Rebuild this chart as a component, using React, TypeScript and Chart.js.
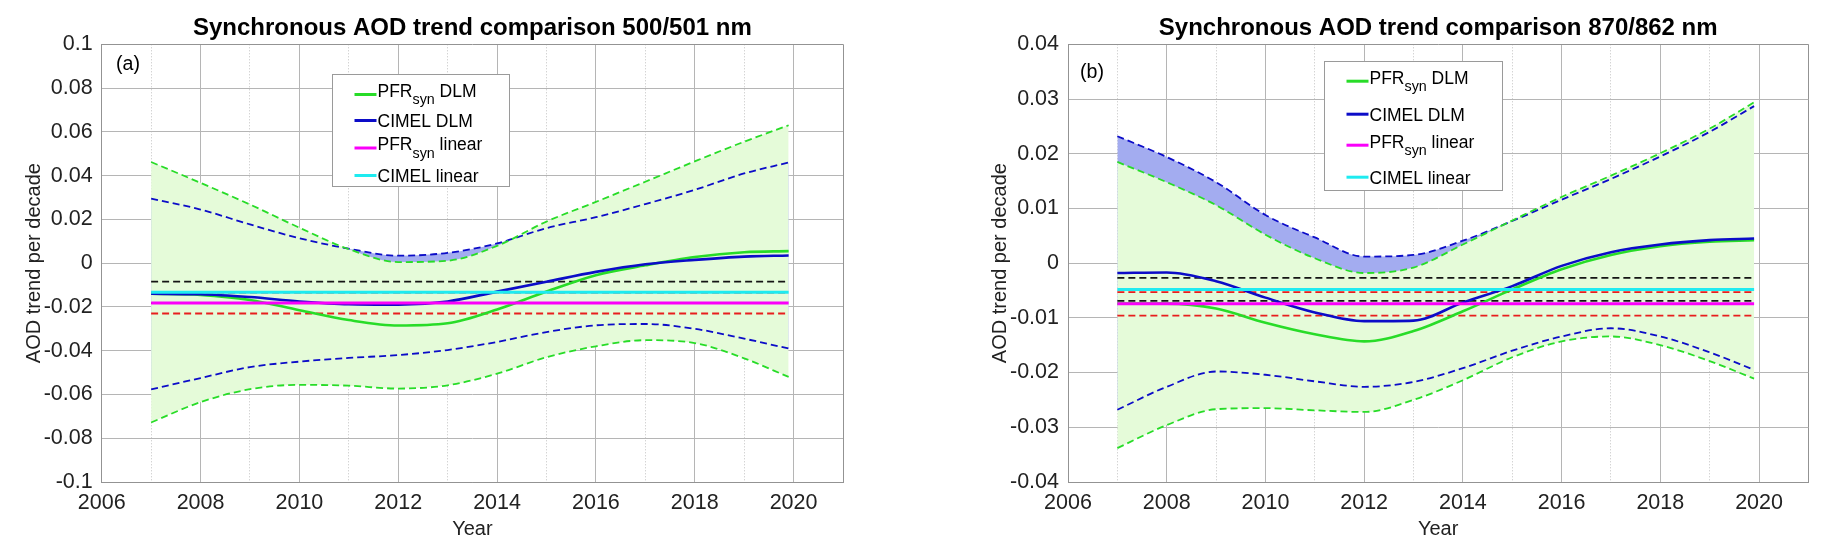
import React, { useEffect, useRef } from 'react';
import { Chart, registerables } from 'chart.js';

Chart.register(...registerables);

const FONT = "'Liberation Sans', Arial, Helvetica, sans-serif";

// ---------- shared axes / labels ----------
const YEARS = [2007, 2008, 2009, 2010, 2011, 2012, 2013, 2014, 2015, 2016, 2017, 2018, 2019, 2019.9];
const X_MIN = 2006;
const X_MAX = 2021;
const LEGEND_LABELS = ['PFR_{syn} DLM', 'CIMEL DLM', 'PFR_{syn} linear', 'CIMEL linear'];
const X_TITLE = 'Year';
const Y_TITLE = 'AOD trend per decade';

// ---------- panel (a) 500/501 nm ----------
const A_TITLE = 'Synchronous AOD trend comparison 500/501 nm';
const A_PFR_DLM = [-0.014, -0.0145, -0.0168, -0.0215, -0.026, -0.0285, -0.0275, -0.0212, -0.013, -0.0055, -0.001, 0.0028, 0.005, 0.0055];
const A_CIMEL_DLM = [-0.014, -0.0142, -0.0155, -0.0175, -0.0188, -0.019, -0.0175, -0.013, -0.0085, -0.004, -0.0005, 0.0015, 0.003, 0.0035];
const A_PFR_UPPER = [0.0462, 0.0367, 0.0268, 0.0162, 0.0064, 0.0005, 0.0011, 0.0079, 0.019, 0.028, 0.0372, 0.0465, 0.0555, 0.063];
const A_PFR_LOWER = [-0.0728, -0.0635, -0.0576, -0.0556, -0.056, -0.0573, -0.0558, -0.0505, -0.043, -0.038, -0.0352, -0.0365, -0.0435, -0.052];
const A_CIMEL_UPPER = [0.0295, 0.0245, 0.0177, 0.0114, 0.0066, 0.0034, 0.0047, 0.009, 0.016, 0.021, 0.027, 0.0335, 0.041, 0.046];
const A_CIMEL_LOWER = [-0.0577, -0.0525, -0.0475, -0.045, -0.0433, -0.042, -0.0397, -0.036, -0.0315, -0.0284, -0.0278, -0.03, -0.0345, -0.039];
const A_PFR_LINEAR = -0.0182;
const A_CIMEL_LINEAR = -0.0133;
const A_PFR_LINEAR_CI = [-0.0134, -0.023];
const A_CIMEL_LINEAR_CI = [-0.0084, -0.0183];

// ---------- panel (b) 870/862 nm ----------
const B_TITLE = 'Synchronous AOD trend comparison 870/862 nm';
const B_PFR_DLM = [-0.0074, -0.0074, -0.0083, -0.0109, -0.013, -0.0143, -0.0124, -0.0088, -0.0048, -0.0011, 0.0015, 0.0031, 0.0039, 0.0042];
const B_CIMEL_DLM = [-0.0018, -0.0017, -0.0033, -0.0063, -0.009, -0.0106, -0.0105, -0.0072, -0.0042, -0.0005, 0.002, 0.0034, 0.0042, 0.0045];
const B_PFR_UPPER = [0.0185, 0.0148, 0.0106, 0.0052, 0.0009, -0.0018, -0.0008, 0.0034, 0.0078, 0.0121, 0.016, 0.0201, 0.0246, 0.0294];
const B_PFR_LOWER = [-0.0338, -0.0296, -0.0267, -0.0265, -0.0269, -0.0272, -0.025, -0.0214, -0.0172, -0.0143, -0.0134, -0.015, -0.0179, -0.0211];
const B_CIMEL_UPPER = [0.0232, 0.0194, 0.0148, 0.0088, 0.0047, 0.0012, 0.0015, 0.0041, 0.0077, 0.0116, 0.0154, 0.0195, 0.024, 0.0287];
const B_CIMEL_LOWER = [-0.0268, -0.0226, -0.0198, -0.0204, -0.0216, -0.0226, -0.0217, -0.0192, -0.016, -0.0134, -0.0119, -0.0134, -0.0163, -0.0195];
const B_PFR_LINEAR = -0.0074;
const B_CIMEL_LINEAR = -0.0048;
const B_PFR_LINEAR_CI = [-0.0053, -0.0096];
const B_CIMEL_LINEAR_CI = [-0.0027, -0.0069];

// ---------- styles ----------
const GREEN = 'rgb(40,220,40)';
const BLUE = 'rgb(12,12,200)';
const MAGENTA = 'rgb(250,0,250)';
const CYAN = 'rgb(30,235,240)';
const RED = 'rgb(232,30,30)';
const BLACK = 'rgb(20,20,20)';
const FILL_GREEN = 'rgb(229,251,217)';
const FILL_BLUE = 'rgb(163,172,240)';
const GRID = '#b5b5b5';
const GRID_MINOR = '#c2c2c2';
const AXIS = '#939393';
const TEXT = '#222222';
const DASH = [7, 4];

const PANELS = [
  {
    title: A_TITLE, yMin: -0.1, yMax: 0.1, yStep: 0.02,
    pfrDlm: A_PFR_DLM, cimelDlm: A_CIMEL_DLM, pfrUpper: A_PFR_UPPER, pfrLower: A_PFR_LOWER,
    cimelUpper: A_CIMEL_UPPER, cimelLower: A_CIMEL_LOWER, pfrLinear: A_PFR_LINEAR, cimelLinear: A_CIMEL_LINEAR,
    pfrCi: A_PFR_LINEAR_CI, cimelCi: A_CIMEL_LINEAR_CI,
    canvasLeft: 0, canvasWidth: 913, padLeft: 0, padRight: 70,
    tag: '(a)', tagDx: 14.3, tagDy: 20,
    legend: { dx: 230.3, dy: 30, w: 177, h: 112, rows: [16, 46, 69.5, 101] },
  },
  {
    title: B_TITLE, yMin: -0.04, yMax: 0.04, yStep: 0.01,
    pfrDlm: B_PFR_DLM, cimelDlm: B_CIMEL_DLM, pfrUpper: B_PFR_UPPER, pfrLower: B_PFR_LOWER,
    cimelUpper: B_CIMEL_UPPER, cimelLower: B_CIMEL_LOWER, pfrLinear: B_PFR_LINEAR, cimelLinear: B_CIMEL_LINEAR,
    pfrCi: B_PFR_LINEAR_CI, cimelCi: B_CIMEL_LINEAR_CI,
    canvasLeft: 913, canvasWidth: 914, padLeft: 53.3, padRight: 18.6,
    tag: '(b)', tagDx: 12, tagDy: 28,
    legend: { dx: 256, dy: 16.3, w: 178, h: 129, rows: [15.7, 52.7, 79.7, 115.7] },
  },
];

const pts = (vals: number[]) => YEARS.map((x, i) => ({ x, y: vals[i] }));
const flat = (v: number) => [{ x: YEARS[0], y: v }, { x: YEARS[YEARS.length - 1], y: v }];

function drawRich(ctx: CanvasRenderingContext2D, text: string, x: number, baseline: number) {
  const parts = text.split(/(_\{[^}]*\})/).filter((s) => s.length > 0);
  for (const part of parts) {
    if (part.startsWith('_{')) {
      const t = part.slice(2, -1);
      ctx.font = `14.3px ${FONT}`;
      ctx.fillText(t, x, baseline + 7.5);
      x += ctx.measureText(t).width;
    } else {
      ctx.font = `17.5px ${FONT}`;
      ctx.fillText(part, x, baseline);
      x += ctx.measureText(part).width;
    }
  }
}

const decorPlugin = {
  id: 'matlabDecor',
  afterDraw(chart: any, _args: any, opts: any) {
    const { ctx, chartArea: ca } = chart;
    ctx.save();
    ctx.fillStyle = '#000';
    ctx.font = `19.6px ${FONT}`;
    ctx.textAlign = 'left';
    ctx.textBaseline = 'middle';
    ctx.fillText(opts.tag, ca.left + opts.tagDx, ca.top + opts.tagDy);
    const lg = opts.legend;
    const bx = Math.round(ca.left + lg.dx) + 0.5;
    const by = Math.round(ca.top + lg.dy) + 0.5;
    ctx.fillStyle = '#ffffff';
    ctx.fillRect(bx, by, lg.w, lg.h);
    ctx.strokeStyle = '#9a9a9a';
    ctx.lineWidth = 1;
    ctx.strokeRect(bx, by, lg.w, lg.h);
    ctx.textBaseline = 'alphabetic';
    LEGEND_LABELS.forEach((label, i) => {
      const ds = chart.data.datasets.find((d: any) => d.label === label);
      const ty = by + lg.rows[i];
      const hasSub = label.includes('_{');
      const ly = ty + (hasSub ? 4 : 0);
      ctx.strokeStyle = ds ? ds.borderColor : '#000';
      ctx.lineWidth = 3;
      ctx.setLineDash([]);
      ctx.beginPath();
      ctx.moveTo(bx + 22, ly);
      ctx.lineTo(bx + 44, ly);
      ctx.stroke();
      ctx.fillStyle = '#000';
      drawRich(ctx, label, bx + 45, ty + 6.3);
    });
    ctx.restore();
  },
};

function buildConfig(p: any): any {
  const line = (label: string, data: any[], color: string, width: number, dash: number[], extra: any = {}) => ({
    label, data, borderColor: color, borderWidth: width, borderDash: dash,
    pointRadius: 0, pointHoverRadius: 0, fill: false, cubicInterpolationMode: 'monotone', ...extra,
  });
  const datasets = [
    line('CIMEL linear', flat(p.cimelLinear), CYAN, 3, []),
    line('PFR_{syn} linear', flat(p.pfrLinear), MAGENTA, 3, []),
    line('CIMEL DLM', pts(p.cimelDlm), BLUE, 2.6, []),
    line('PFR_{syn} DLM', pts(p.pfrDlm), GREEN, 2.6, []),
    line('CIMEL linear CI upper', flat(p.cimelCi[0]), BLACK, 1.8, DASH),
    line('CIMEL linear CI lower', flat(p.cimelCi[1]), BLACK, 1.8, DASH),
    line('PFR linear CI upper', flat(p.pfrCi[0]), RED, 1.8, DASH),
    line('PFR linear CI lower', flat(p.pfrCi[1]), RED, 1.8, DASH),
    line('PFR DLM upper', pts(p.pfrUpper), GREEN, 1.8, DASH, { fill: '+1', backgroundColor: FILL_GREEN }),
    line('PFR DLM lower', pts(p.pfrLower), GREEN, 1.8, DASH),
    line('CIMEL DLM upper', pts(p.cimelUpper), BLUE, 1.8, DASH, { fill: '+1', backgroundColor: FILL_BLUE }),
    line('CIMEL DLM lower', pts(p.cimelLower), BLUE, 1.8, DASH),
  ];
  const near = (a: number, b: number) => Math.abs(a - b) < 1e-9;
  return {
    type: 'line',
    data: { datasets },
    plugins: [decorPlugin],
    options: {
      animation: false,
      responsive: false,
      maintainAspectRatio: false,
      events: [],
      layout: { padding: { left: p.padLeft, right: p.padRight, top: 0, bottom: 0 } },
      plugins: {
        legend: { display: false },
        tooltip: { enabled: false },
        filler: { drawTime: 'beforeDatasetsDraw', propagate: false },
        title: {
          display: true, text: p.title, fullSize: false, color: '#000',
          font: { family: FONT, size: 24, weight: 'bold' },
          padding: { top: 13.5, bottom: 2 },
        },
        matlabDecor: { tag: p.tag, tagDx: p.tagDx, tagDy: p.tagDy, legend: p.legend },
      },
      scales: {
        x: {
          type: 'linear', min: X_MIN, max: X_MAX,
          afterFit: (s: any) => { s.height = 73; },
          ticks: {
            stepSize: 1, autoSkip: false, maxRotation: 0, minRotation: 0, padding: 8, color: TEXT,
            font: { family: FONT, size: 21.5 },
            callback: (v: number) => (v % 2 === 0 && v <= 2020 ? String(v) : ''),
          },
          grid: {
            drawTicks: false, lineWidth: 1,
            color: (c: any) => {
              if (!c.tick) return GRID;
              if (near(c.tick.value, X_MIN) || near(c.tick.value, X_MAX)) return AXIS;
              return c.tick.value % 2 === 1 ? GRID_MINOR : GRID;
            },
          },
          border: {
            display: true, color: AXIS, width: 1,
            dash: (c: any) => (c.tick && c.tick.value % 2 === 1 && !near(c.tick.value, X_MAX) ? [1, 2] : []),
          },
          title: { display: true, text: X_TITLE, color: TEXT, font: { family: FONT, size: 20 }, padding: { top: 0, bottom: 14 } },
        },
        y: {
          type: 'linear', min: p.yMin, max: p.yMax,
          afterFit: (s: any) => { s.width = 101.7; },
          ticks: {
            stepSize: p.yStep, padding: 9, color: TEXT,
            font: { family: FONT, size: 21.5 },
            callback: (v: number) => { const r = Math.round(v * 1e4) / 1e4; return r === 0 ? '0' : String(r); },
          },
          grid: {
            drawTicks: false, lineWidth: 1,
            color: (c: any) => (c.tick && (near(c.tick.value, p.yMin) || near(c.tick.value, p.yMax)) ? AXIS : GRID),
          },
          border: { display: true, color: AXIS, width: 1 },
          title: { display: true, text: Y_TITLE, color: TEXT, font: { family: FONT, size: 20 }, padding: { top: 22, bottom: 0 } },
        },
      },
    },
  };
}

function Panel({ panel }: { panel: any }) {
  const ref = useRef<HTMLCanvasElement>(null);
  useEffect(() => {
    if (!ref.current) return;
    const chart = new Chart(ref.current, buildConfig(panel));
    return () => chart.destroy();
  }, [panel]);
  return (
    <canvas
      ref={ref}
      width={panel.canvasWidth}
      height={555}
      style={{ position: 'absolute', left: panel.canvasLeft, top: 0, width: panel.canvasWidth, height: 555, display: 'block' }}
    />
  );
}

export default function App() {
  return (
    <div style={{ position: 'absolute', left: 0, top: 0, width: 1827, height: 555, background: '#fff', overflow: 'hidden' }}>
      {PANELS.map((p, i) => (
        <Panel key={i} panel={p} />
      ))}
    </div>
  );
}
